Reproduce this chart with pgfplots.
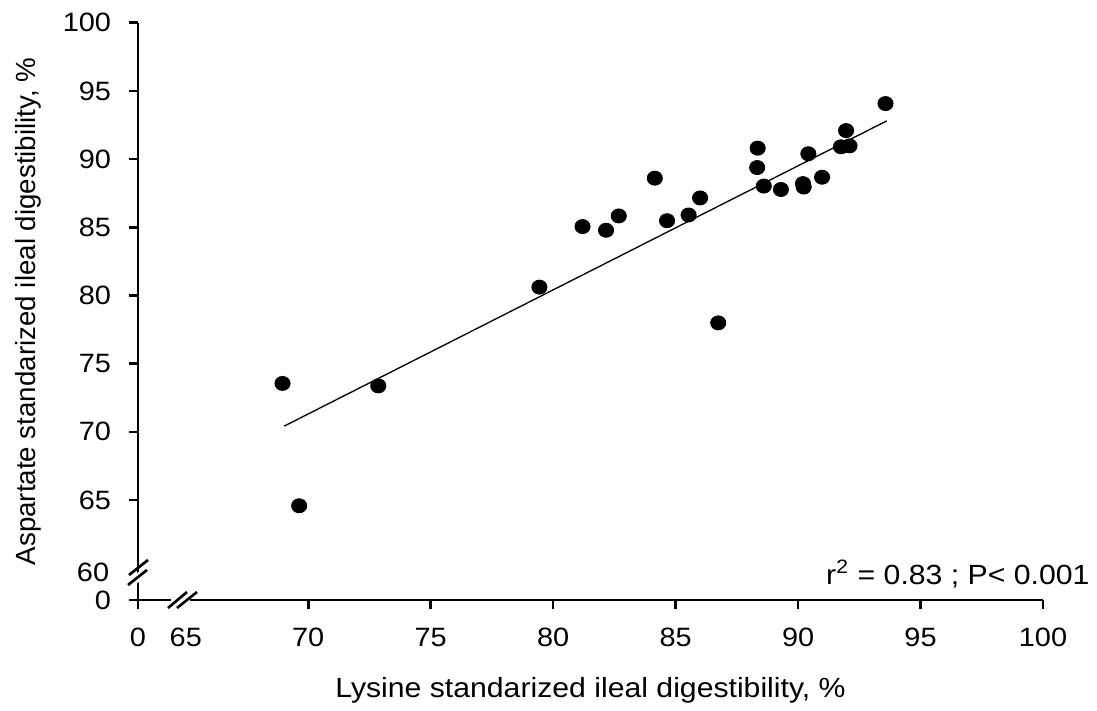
\documentclass[border=0pt]{standalone}
\usepackage{fontspec}
\setmainfont{Liberation Sans}
\usepackage{pgfplots}
\pgfplotsset{compat=1.18}

% one pixel of the 1097x708 reference
\def\px{0.014585cm}

\begin{document}
\begin{tikzpicture}[font=\fontsize{11.5}{13}\selectfont]
\begin{axis}[
    scale only axis,
    width=905*\px, height=577.3*\px,
    axis lines*=left,
    axis line style={line width=1.1pt},
    xmin=63.05, xmax=100, ymin=57.67, ymax=100,
    xtick={63.05,70,75,80,85,90,95,100},
    xticklabels={0,70,75,80,85,90,95,100},
    ytick={57.67,65,70,75,80,85,90,95,100},
    yticklabels={0,65,70,75,80,85,90,95,100},
    tick align=outside,
    major tick length=9*\px,
    tick style={line width=1.1pt, black},
    ticklabel style={font=\fontsize{11}{12}\selectfont, xscale=1.09, inner sep=0pt},
    xticklabel style={anchor=north, yshift=-19*\px},
    yticklabel style={anchor=east, xshift=-16*\px},
    /pgf/number format/assume math mode=true,
    clip=false,
]
\addplot[only marks, mark=*, mark size=2.9pt, mark options={xscale=1.08, fill=black}] coordinates {
    (68.95,73.55) (69.63,64.58) (72.86,73.37) (79.44,80.61)
    (81.20,85.05) (82.16,84.78) (82.68,85.83) (84.15,88.60)
    (84.65,85.48) (85.53,85.90) (86.00,87.15) (86.74,77.99)
    (88.35,90.80) (88.33,89.38) (88.60,88.02) (89.30,87.77)
    (90.20,88.20) (90.23,87.95) (90.42,90.39) (90.98,88.67)
    (91.96,92.09) (91.75,90.90) (92.10,90.97) (93.57,94.07)
};
\addplot[black, line width=0.55pt, no marks] coordinates {(69.02,70.42) (93.62,92.80)};
% labels of the broken parts of the axes (no tick mark there)
\node[anchor=north, inner sep=0pt, xscale=1.09, font=\fontsize{11}{12}\selectfont, yshift=-28*\px] at (axis cs:65,57.67) {65};
\node[anchor=east, inner sep=0pt, xscale=1.09, font=\fontsize{11}{12}\selectfont, xshift=-26*\px] at (axis cs:63.05,59.7) {60};
\coordinate (O) at (rel axis cs:0,0);
\coordinate (R) at (rel axis cs:1,0);
\end{axis}
% broken-axis marks, offsets in reference pixels from the origin
\begin{scope}[shift={(O)}, x=\px, y=\px, line width=1.1pt]
  \fill[white] (-9,20) -- (9,35) -- (9,25) -- (-9,10) -- cycle;
  \draw (-9,25) -- (10,40);
  \draw (-10,15) -- (9,30);
  \fill[white] (34,-8) -- (53,8) -- (44,8) -- (25,-8) -- cycle;
  \fill[white] (33,-3) rectangle (52,3);
  \draw (30,-8) -- (49,8);
  \draw (39,-8) -- (59,8);
\end{scope}
\node[anchor=east, xscale=1.09, inner sep=0pt] at ([xshift=47*\px, yshift=26*\px]R) {r\textsuperscript{2} = 0.83 ; P< 0.001};
\node[xscale=1.09] at ([xshift=452.5*\px, yshift=-90*\px]O) {Lysine standarized ileal digestibility, \%};
\node[rotate=90] at ([xshift=-110*\px, yshift=288.6*\px]O) {Aspartate standarized ileal digestibility, \%};
\path ([xshift=-138*\px, yshift=-108*\px]O) ([xshift=959*\px, yshift=600*\px]O);
\end{tikzpicture}
\end{document}
